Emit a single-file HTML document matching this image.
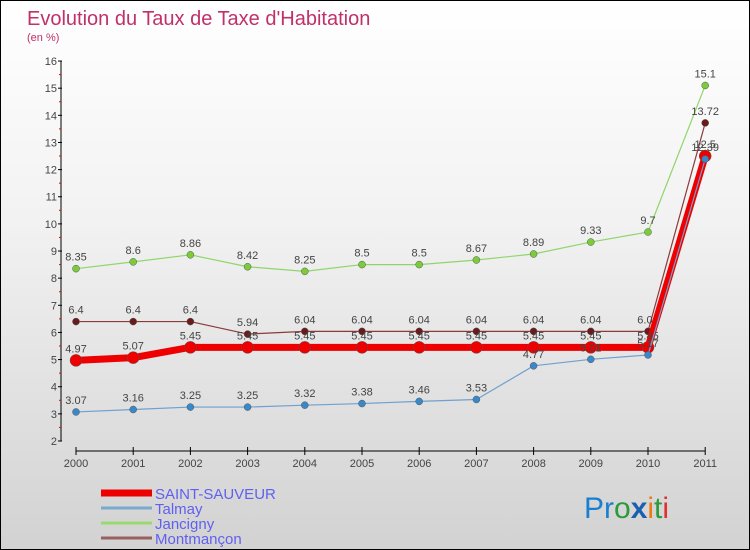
<!DOCTYPE html>
<html><head><meta charset="utf-8"><style>
body{margin:0}
#c{width:748px;height:548px;border:1px solid #000;background:linear-gradient(#ffffff,#f2f2f2 40%,#d2d2d2);position:relative;overflow:hidden;font-family:"Liberation Sans",sans-serif}
</style></head><body>
<div id="c">
<svg id="s" width="748" height="548" style="position:absolute;left:0;top:0">
<text x="26" y="24" font-size="20" fill="#c0306a">Evolution du Taux de Taxe d'Habitation</text>
<text x="26" y="40" font-size="11" fill="#c0306a">(en %)</text>
<g id="axes"></g><g id="series"></g><g id="legend"></g>
<text x="583" y="517" font-size="30" font-family="Liberation Sans"><tspan fill="#1a7fd0">Pr</tspan><tspan fill="#2a9a3a">o</tspan><tspan fill="#1a5fb0" font-weight="bold">x</tspan><tspan fill="#f07a10">i</tspan><tspan fill="#2a9a3a">t</tspan><tspan fill="#e03030">i</tspan></text>
</svg>
</div>
<script>
const years=[2000,2001,2002,2003,2004,2005,2006,2007,2008,2009,2010,2011];
const yTicks=[2,3,4,5,6,7,8,9,10,11,12,13,14,15,16];
const saint=[4.97,5.07,5.45,5.45,5.45,5.45,5.45,5.45,5.45,5.45,5.45,12.5];
const talmay=[3.07,3.16,3.25,3.25,3.32,3.38,3.46,3.53,4.77,5.01,5.17,12.39];
const jancigny=[8.35,8.6,8.86,8.42,8.25,8.5,8.5,8.67,8.89,9.33,9.7,15.1];
const montmancon=[6.4,6.4,6.4,5.94,6.04,6.04,6.04,6.04,6.04,6.04,6.04,13.72];
const NS="http://www.w3.org/2000/svg";
const X=i=>75+i*57.2, Y=v=>440-(v-2)*27.14;
function mk(t,a,p){const e=document.createElementNS(NS,t);for(const k in a)e.setAttribute(k,a[k]);p.appendChild(e);return e;}
const ax=document.getElementById('axes');
const yl=mk('line',{x1:60,y1:Y(16),x2:60,y2:Y(2),stroke:'#000'},ax);


yTicks.forEach(v=>{
 mk('line',{x1:57,x2:61,y1:Y(v),y2:Y(v),stroke:'#000'},ax);
 if(v<16)mk('line',{x1:58,x2:60,y1:Y(v+0.5),y2:Y(v+0.5),stroke:'#e00'},ax);
 const t=mk('text',{x:56,y:Y(v)+4,'text-anchor':'end','font-size':11,fill:'#444'},ax);t.textContent=v;
 
 
});
const xl=mk('line',{x1:75,y1:450,x2:X(11),y2:450,stroke:'#000'},ax);


years.forEach((y,i)=>{
 mk('line',{x1:X(i),x2:X(i),y1:446,y2:454,stroke:'#000'},ax);
 const t=mk('text',{x:X(i),y:466,'text-anchor':'middle','font-size':11,fill:'#444'},ax);t.textContent=y;
 
 
});
const sg=document.getElementById('series');
function series(arr,name,color,w,r,dot,labels){
 const g=mk('g',{},sg);
 
 
 mk('polyline',{points:arr.map((v,i)=>X(i)+','+Y(v)).join(' '),fill:'none',stroke:color,'stroke-width':w,'stroke-linejoin':'round'},g);
 arr.forEach((v,i)=>{
  const c=mk('circle',{cx:X(i),cy:Y(v),r:r,fill:dot,stroke:'#555','stroke-width':0.5},g);
  
  
  if(labels){const t=mk('text',{x:X(i),y:Y(v)-8,'text-anchor':'middle','font-size':11,fill:'#444'},g);t.textContent=v;}
 });
}
series(jancigny,'jancigny','#8fd66a',1.2,3.5,'#7ccc3a',true);
series(montmancon,'montmancon','#8a3a3a',1.2,3.5,'#6a1a1a',true);
series(saint,'saint-sauveur','#ee0000',7,6,'#ee0000',true);
series(talmay,'talmay','#6fa0d0',1.2,3.5,'#3a88c8',true);
const lg=document.getElementById('legend');
[['SAINT-SAUVEUR','#ee0000',7],['Talmay','#7aaad0',3],['Jancigny','#9ad870',3],['Montmançon','#9a6060',3]].forEach((d,i)=>{
 const y=492+i*15;
 const g=mk('g',{},lg);
 
 
 mk('line',{x1:100,x2:151,y1:y,y2:y,stroke:d[1],'stroke-width':d[2]},g);
 const t=mk('text',{x:154,y:y+6,'font-size':15,fill:'#6060f0'},g);t.textContent=d[0];
});
</script>
</body></html>
